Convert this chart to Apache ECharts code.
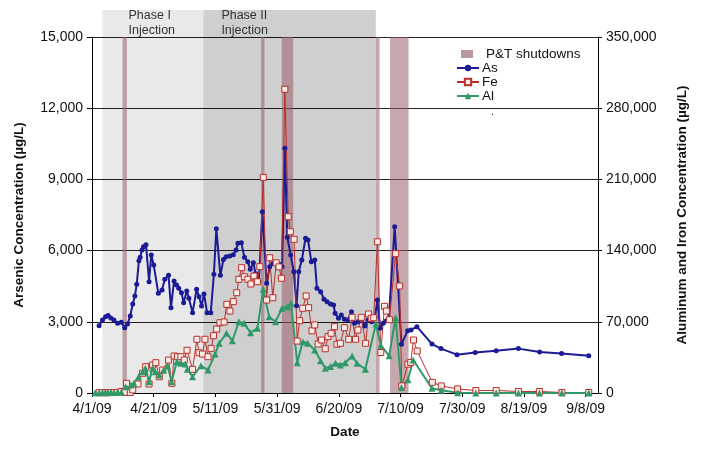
<!DOCTYPE html>
<html><head><meta charset="utf-8">
<script src="https://cdn.jsdelivr.net/npm/echarts@6/dist/echarts.min.js"></script>
<style>html,body{margin:0;padding:0;background:#fff}#c{width:701px;height:450px}</style>
</head><body><div id="c"></div>
<script>
// x values are days since 4/1/09
const asDays = [2.3,3.4,4.4,5.2,6.1,7.1,8.3,9.5,10.6,11.5,12.4,13.2,13.9,14.5,15.2,15.6,16.2,16.7,17.5,18.5,19.2,20.0,21.5,22.7,23.6,24.8,25.6,26.6,27.4,28.1,29.0,29.7,30.7,31.4,32.6,33.9,34.7,35.5,36.3,37.3,38.5,39.5,40.3,41.6,42.6,43.5,44.7,45.8,46.7,47.3,48.4,49.4,50.5,51.3,52.3,53.0,54.1,55.2,56.6,57.6,58.7,59.9,60.8,61.6,62.5,63.3,64.4,65.4,66.3,67.0,68.0,69.2,70.0,71.1,72.2,72.9,74.1,75.2,76.2,77.3,78.3,78.8,79.9,80.8,81.8,82.9,84.1,85.1,86.2,87.3,88.4,89.4,90.6,91.7,92.5,93.4,94.4,95.4,96.2,98.1,100.3,102.3,103.4,105.3,110.2,113.1,118.3,124.2,131.0,138.2,145.1,152.2,161.0];
const asVals = [2835,3075,3215,3270,3160,3075,2935,2980,2750,2905,3245,3750,4085,4580,5575,5720,6025,6165,6250,4690,5815,5390,4200,4340,4790,4960,3595,4720,4550,4410,4225,3805,4300,3990,3385,4370,4060,3665,4170,3385,3385,5000,6920,4960,5630,5745,5770,5825,6025,6305,6330,5715,5530,5210,5490,5040,4690,7640,4620,5320,5460,5490,5420,5320,10310,6560,5815,5110,3680,5110,5600,6520,6450,5530,5600,4410,4270,3950,3850,3750,3710,3355,3145,3285,3105,3075,3425,2935,3005,3170,2820,3075,3005,3190,3920,2725,2935,3045,3145,7005,2050,2625,2655,2795,2060,1870,1615,1710,1780,1870,1730,1660,1565];

const feDays = [2.3,3.4,4.4,5.2,6.1,7.1,8.3,9.5,10.6,11.2,12.4,13.2,14.9,16.4,17.4,18.5,19.6,20.7,21.8,22.9,24.8,25.9,26.6,27.7,28.8,29.9,30.8,32.6,34.0,34.7,35.8,36.6,37.6,38.6,39.4,40.4,41.5,42.8,43.7,44.7,45.8,46.9,47.6,48.5,49.4,50.5,51.5,52.5,53.6,54.4,55.5,56.6,57.6,58.6,59.7,60.6,61.4,62.5,63.6,64.3,65.5,66.5,67.3,68.3,69.4,70.2,71.3,72.2,73.3,74.4,75.6,76.5,77.5,78.6,79.4,80.5,81.8,83.2,84.3,85.4,86.2,87.3,88.7,89.6,90.5,91.3,92.5,93.6,94.8,95.4,96.4,98.4,99.7,100.4,102.4,103.3,104.2,105.4,110.3,113.2,118.5,124.4,131.0,138.2,145.0,152.3,161.0];
const feVals = [300,300,400,300,500,400,600,1500,500,9500,500,3000,8850,19400,25900,8850,27500,29800,16000,22600,32400,9500,36400,35700,35700,32400,42000,23300,52800,39600,38300,52800,35700,43900,56300,62900,69100,69800,87200,80600,89800,98600,111800,123200,114300,111800,107200,115000,109400,124200,212000,91400,133000,93700,128000,124000,112800,298600,173300,158600,151100,51100,71100,83300,95400,83900,61200,66900,48200,52100,43500,55400,58700,65200,47900,48900,64200,52800,74400,52800,61900,74400,48900,77700,73400,74000,148700,39800,85200,80600,72100,137000,105200,7000,28300,30000,52100,41300,10500,7000,4000,2500,2500,1500,1500,500,500];

const alDays = [1.0,2.3,3.4,4.4,5.2,6.1,7.1,8.3,9.5,10.9,12.6,13.6,15.1,16.4,17.3,18.5,19.6,20.5,21.8,23.2,24.5,25.8,27.5,28.8,30.2,30.9,32.6,35.3,37.6,39.9,41.2,43.6,45.5,47.6,49.3,51.4,53.6,55.5,57.4,59.5,61.6,63.3,64.5,66.5,68.3,69.9,72.2,74.1,75.6,77.3,78.9,80.5,82.1,84.3,85.9,88.6,92.0,93.6,96.3,98.4,100.3,102.4,104.1,110.2,113.2,118.5,124.4,131.0,138.2,145.0,152.3,161.0];
const alVals = [300,300,400,300,400,500,600,700,900,6200,7900,9500,16000,21000,24300,11100,24300,21000,17700,22600,26500,11100,30800,29200,28500,23300,16000,26800,22600,38300,48900,58700,51400,70100,68500,59300,63600,101900,75000,70000,83300,84800,88200,29800,50400,48900,42300,31800,24300,26000,29200,27500,29800,36400,29200,23300,67800,47000,36500,74000,5500,13000,32400,4600,2600,300,0,0,0,0,0,0];

const shutdownStart = [9.9,54.8,61.5,92.0,96.6];
const shutdownEnd   = [11.3,55.9,65.2,93.2,102.6];
const phaseNames = ['Phase I\nInjection','Phase II\nInjection'];
const phaseStart = [3.4,36.1];
const phaseEnd   = [36.1,92.0];
const phaseColors = ['rgba(0,0,0,0.085)','rgba(0,0,0,0.19)'];

const zip = (a,b)=>a.map((x,i)=>[x,b[i]]);
const FONT = 'Liberation Sans, Arial, sans-serif';
function dayLabel(d){
  if (Math.abs(d % 20) > 1e-6) return '';
  const t = new Date(2009,3,1+d);
  return (t.getMonth()+1)+'/'+t.getDate()+'/'+String(t.getFullYear()).slice(2);
}
const chart = echarts.init(document.getElementById('c'), null, {renderer:'canvas'});
const axisLbl = {color:'#111', fontSize:14, fontFamily:FONT};
const titleStyle = {fontWeight:'bold',fontSize:13.5,color:'#111',fontFamily:FONT};
chart.setOption({
  animation:false,
  backgroundColor:'#fff',
  textStyle:{fontFamily:FONT},
  grid:[{left:92,right:103,top:37,bottom:57},{left:92,right:103,top:10,bottom:57}],
  xAxis:[
    {gridIndex:0,type:'value',min:0,max:164,interval:20,
     name:'Date',nameLocation:'middle',nameGap:32,nameTextStyle:titleStyle,
     axisLine:{lineStyle:{color:'#000',width:1}},
     axisTick:{show:true,length:4,lineStyle:{color:'#000'}},
     axisLabel:Object.assign({margin:9,formatter:dayLabel,showMaxLabel:false},axisLbl),
     splitLine:{show:false}},
    {gridIndex:1,type:'value',min:0,max:164,show:false}
  ],
  yAxis:[
    {gridIndex:0,type:'value',min:0,max:15000,interval:3000,position:'left',
     name:'Arsenic Concentration (µg/L)',nameLocation:'middle',nameGap:66,nameTextStyle:titleStyle,
     axisLine:{show:true,lineStyle:{color:'#000'}},
     axisTick:{show:true,length:5,lineStyle:{color:'#000'}},
     axisLabel:Object.assign({margin:9,formatter:v=>v.toLocaleString('en-US')},axisLbl),
     splitLine:{show:true,lineStyle:{color:'#222',width:1}}},
    {gridIndex:0,type:'value',min:0,max:350000,interval:70000,position:'right',
     name:'Aluminum and Iron Concentration (µg/L)',nameLocation:'middle',nameGap:77,nameTextStyle:titleStyle,
     axisLine:{show:true,lineStyle:{color:'#000'}},
     axisTick:{show:true,length:4,lineStyle:{color:'#000'}},
     axisLabel:Object.assign({margin:8,formatter:v=>v.toLocaleString('en-US')},axisLbl),
     splitLine:{show:false}},
    {gridIndex:1,type:'value',min:0,max:1,show:false}
  ],
  legend:[
    {orient:'vertical',left:461,top:47,padding:0,itemWidth:12,itemHeight:8,itemGap:0,
     textStyle:{fontSize:13.5,color:'#111',fontFamily:FONT,lineHeight:14,padding:[0,0,0,8]},
     data:[{name:'P&T shutdowns',icon:'rect',itemStyle:{color:'#b8989d'}}]},
    {orient:'vertical',left:456,top:61,padding:0,itemWidth:22,itemHeight:8,itemGap:0,
     textStyle:{fontSize:13.5,color:'#111',fontFamily:FONT,lineHeight:14,padding:[0,0,0,-2]},
     data:['As','Fe','Al']}
  ],
  graphic:[{type:'text',left:491,top:106,style:{text:'.',fontSize:11,fill:'#333'}}],
  series:[
    {name:'Phases',type:'line',xAxisIndex:1,yAxisIndex:2,data:[],silent:true,
     markArea:{silent:true,
       data:phaseStart.map((s,i)=>[
         {xAxis:s,itemStyle:{color:phaseColors[i]},
          label:{show:true,position:'insideTopLeft',offset:i===0?[21,-7]:[13,-7],
                 formatter:phaseNames[i],color:'#333',fontSize:12.5,lineHeight:15,fontFamily:FONT}},
         {xAxis:phaseEnd[i]}])}},
    {name:'P&T shutdowns',type:'line',xAxisIndex:0,yAxisIndex:0,data:[],silent:true,
     itemStyle:{color:'#b8989d'},
     markArea:{silent:true,itemStyle:{color:'rgba(150,95,105,0.55)'},
       data:shutdownStart.map((s,i)=>[{xAxis:s},{xAxis:shutdownEnd[i]}])}},
    {name:'As',type:'line',xAxisIndex:0,yAxisIndex:0,data:zip(asDays,asVals),
     symbol:'circle',symbolSize:5,lineStyle:{color:'#1b1b96',width:2},
     itemStyle:{color:'#1b1b96'}},
    {name:'Fe',type:'line',xAxisIndex:0,yAxisIndex:1,data:zip(feDays,feVals),
     symbol:'rect',symbolSize:6,lineStyle:{color:'#b8302c',width:1},
     itemStyle:{color:'#fbe9e6',borderColor:'#b8302c',borderWidth:1}},
    {name:'Al',type:'line',xAxisIndex:0,yAxisIndex:1,data:zip(alDays,alVals),
     symbol:'triangle',symbolSize:7,lineStyle:{color:'#2f9a68',width:2},
     itemStyle:{color:'#2f9a68'}}
  ]
});
</script></body></html>
